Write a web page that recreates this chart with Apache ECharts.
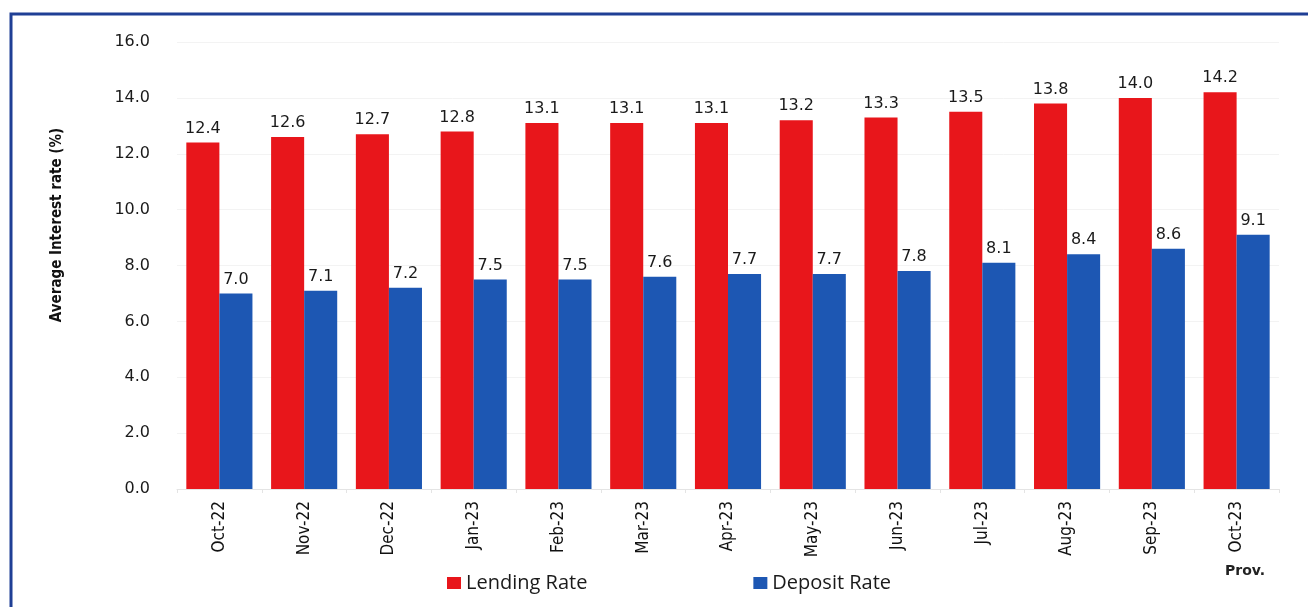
<!DOCTYPE html>
<html>
<head>
<meta charset="utf-8">
<script src="https://cdn.jsdelivr.net/npm/echarts@6/dist/echarts.min.js"></script>
<style>
html,body{margin:0;padding:0;background:#fff;}
#chart{width:1308px;height:607px;}
</style>
</head>
<body>
<div id="chart"></div>
<script>
var categories = ['Oct-22','Nov-22','Dec-22','Jan-23','Feb-23','Mar-23','Apr-23','May-23','Jun-23','Jul-23','Aug-23','Sep-23','Oct-23'];
var lendingRate = [12.4,12.6,12.7,12.8,13.1,13.1,13.1,13.2,13.3,13.5,13.8,14.0,14.2];
var depositRate = [7.0,7.1,7.2,7.5,7.5,7.6,7.7,7.7,7.8,8.1,8.4,8.6,9.1];
var yTicks = [0,2,4,6,8,10,12,14,16];

var chart = echarts.init(document.getElementById('chart'), null, {renderer:'canvas'});
var valLabel = {
  show: true, position: 'top', distance: 6,
  fontFamily: 'DejaVu Sans', fontSize: 16, color: '#1a1a1a',
  formatter: function(p){ return p.value.toFixed(1); }
};
chart.setOption({
  backgroundColor: '#fff',
  animation: false,
  grid: {left: 177, right: 29, top: 42, bottom: 118},
  legend: {
    left: 442, top: 568, itemWidth: 14, itemHeight: 12, itemGap: 166,
    icon: 'rect',
    textStyle: {fontFamily: 'Open Sans', fontSize: 20, color: '#1a1a1a'},
    data: ['Lending Rate','Deposit Rate']
  },
  xAxis: {
    type: 'category', data: categories,
    axisLine: {lineStyle: {color: '#e4e4e4'}},
    axisTick: {show: true, lineStyle: {color: '#e4e4e4'}, length: 4},
    axisLabel: {rotate: 90, margin: 12, fontFamily: 'Liberation Sans Narrow, DejaVu Sans Condensed, sans-serif', fontSize: 17, color: '#111'}
  },
  yAxis: {
    type: 'value', min: 0, max: 16, interval: 2,
    axisLine: {show: false}, axisTick: {show: false},
    splitLine: {lineStyle: {color: '#f3f3f3'}},
    axisLabel: {margin: 27, fontFamily: 'DejaVu Sans', fontSize: 16, color: '#1a1a1a',
      formatter: function(v){ return yTicks.indexOf(v) >= 0 ? v.toFixed(1) : ''; }}
  },
  series: [
    {name: 'Lending Rate', type: 'bar', data: lendingRate, barGap: '0%', barCategoryGap: '22%',
     itemStyle: {color: '#e8161b'}, label: valLabel},
    {name: 'Deposit Rate', type: 'bar', data: depositRate,
     itemStyle: {color: '#1d57b3'}, label: valLabel}
  ],
  graphic: [
    {type: 'rect', shape: {x: 11, y: 14, width: 1310, height: 620},
     style: {fill: 'none', stroke: '#1f3f95', lineWidth: 3}},
    {type: 'text', x: 57, y: 225, rotation: Math.PI/2,
     style: {text: 'Average Interest rate (%)', fontFamily: 'Liberation Sans Narrow, DejaVu Sans Condensed, sans-serif',
       fontWeight: 'bold', fontSize: 15, fill: '#111', align: 'center', verticalAlign: 'middle'}},
    {type: 'text', x: 1225, y: 564,
     style: {text: 'Prov.', fontFamily: 'DejaVu Sans', fontWeight: 'bold', fontSize: 14, fill: '#222'}}
  ]
});
</script>
</body>
</html>
